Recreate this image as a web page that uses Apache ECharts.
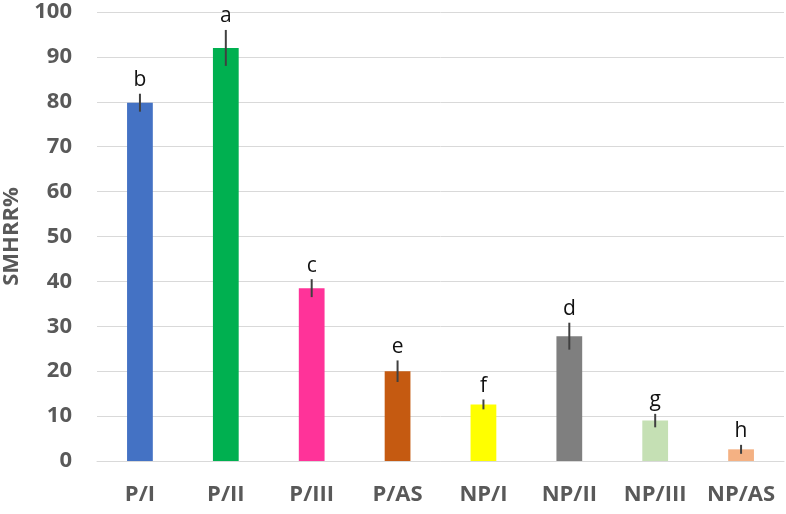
<!DOCTYPE html>
<html>
<head>
<meta charset="utf-8">
<script src="https://cdn.jsdelivr.net/npm/echarts@6/dist/echarts.min.js"></script>
<style>html,body{margin:0;padding:0;background:#fff}#c{width:786px;height:514px}</style>
</head>
<body>
<div id="c"></div>
<script>
const categories = ['P/I','P/II','P/III','P/AS','NP/I','NP/II','NP/III','NP/AS'];
const values = [79.8, 92, 38.5, 20, 12.6, 27.8, 9, 2.6];
const errors = [2, 4, 2, 2.4, 1.1, 3, 1.5, 1];
const letters = ['b','a','c','e','f','d','g','h'];
const barColors = ['#4472C4','#00B050','#FF3399','#C55A11','#FFFF00','#7F7F7F','#C5E0B4','#F4B183'];
const yTicks = [0,10,20,30,40,50,60,70,80,90,100];

const chart = echarts.init(document.getElementById('c'));
chart.setOption({
  animation: false,
  grid: {left: 97, right: 2, top: 12, bottom: 53, containLabel: false, outerBoundsMode: 'none'},
  xAxis: {
    type: 'category', data: categories,
    axisLine: {lineStyle: {color: '#D9D9D9', width: 1}},
    axisTick: {show: false},
    axisLabel: {interval: 0, hideOverlap: false, color: '#595959', fontSize: 22, fontWeight: 'bold', fontFamily: 'Open Sans', margin: 23}
  },
  yAxis: {
    type: 'value', min: yTicks[0], max: yTicks[yTicks.length-1], interval: 10,
    name: 'SMHRR%', nameLocation: 'middle', nameGap: 74,
    nameTextStyle: {color: '#595959', fontSize: 22, fontWeight: 'bold', fontFamily: 'Open Sans'},
    axisLine: {show: false}, axisTick: {show: false},
    axisLabel: {color: '#595959', fontSize: 22, fontWeight: 'bold', fontFamily: 'Open Sans', margin: 25},
    splitLine: {lineStyle: {color: '#D9D9D9', width: 1}}
  },
  series: [
    {
      type: 'bar', barWidth: '30%',
      data: values.map((v,i) => ({value: v, itemStyle: {color: barColors[i]}}))
    },
    {
      type: 'custom',
      data: values.map((v,i) => [i, v, errors[i]]),
      renderItem: function(params, api) {
        const x = api.value(0), v = api.value(1), e = api.value(2);
        const hi = api.coord([x, v + e]);
        const lo = api.coord([x, v - e]);
        return {
          type: 'group',
          children: [
            {type: 'line', shape: {x1: hi[0], y1: hi[1], x2: lo[0], y2: lo[1]},
             style: {stroke: '#404040', lineWidth: 2}},
            {type: 'text', style: {x: hi[0], y: hi[1] - 3, text: letters[params.dataIndex],
             fill: '#111', font: '21px "Open Sans"', textAlign: 'center', textVerticalAlign: 'bottom'}}
          ]
        };
      },
      z: 3
    }
  ]
});
</script>
</body>
</html>
